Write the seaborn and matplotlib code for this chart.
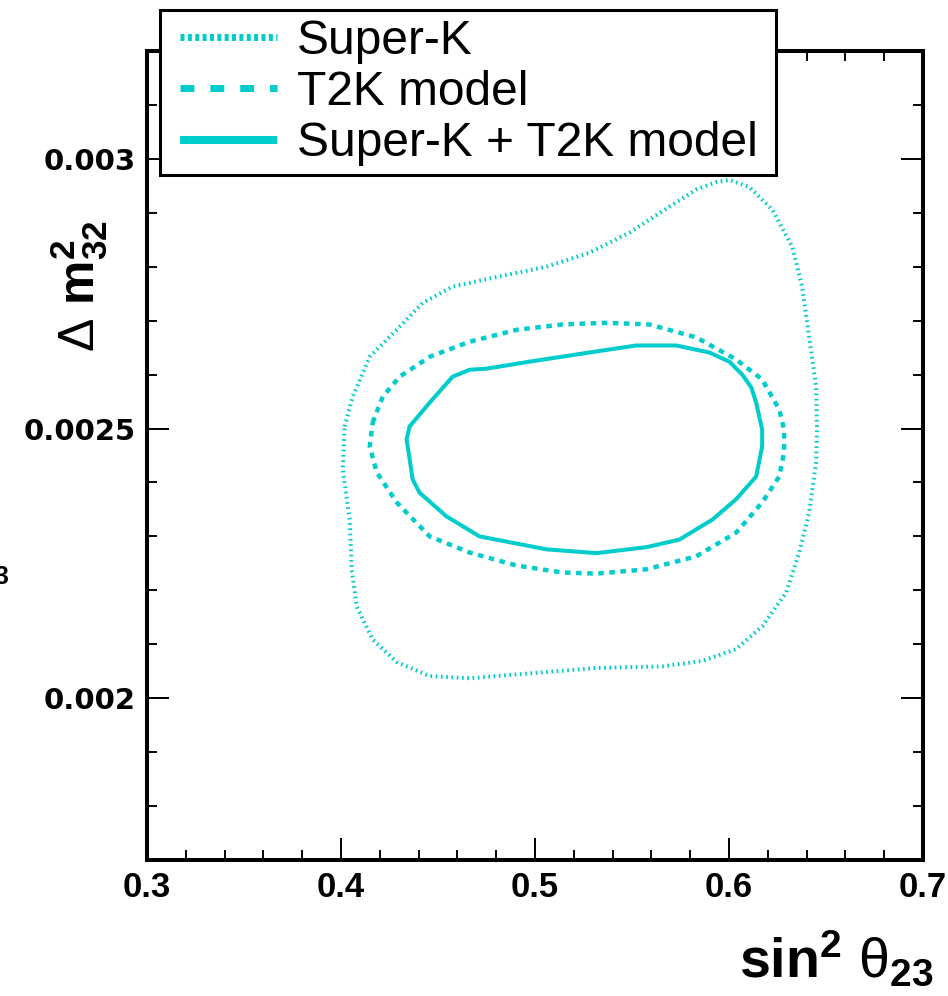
import matplotlib
matplotlib.use("Agg")
import matplotlib.pyplot as plt
from matplotlib.lines import Line2D
from matplotlib.legend_handler import HandlerLine2D
from matplotlib.ticker import MultipleLocator, FixedLocator, FixedFormatter
import numpy as np
import pandas as pd
import seaborn as sns

# 90% C.L. contours in the (sin^2 theta23, Delta m^2_32) plane
sk_x = [0.4019, 0.4060, 0.4148, 0.4287, 0.4421, 0.4575, 0.4802, 0.5059, 0.5281,
        0.5486, 0.5692, 0.5831, 0.5934, 0.6001, 0.6104, 0.6223, 0.6326, 0.6377,
        0.6413, 0.6449, 0.6454, 0.6449, 0.6413, 0.6362, 0.6295, 0.6171, 0.6037,
        0.5862, 0.5656, 0.5317, 0.4972, 0.4663, 0.4457, 0.4287, 0.4163, 0.4081,
        0.4055, 0.4045, 0.4009]
sk_y = [0.002504, 0.002559, 0.002633, 0.002683, 0.002733, 0.002763, 0.002781,
        0.002800, 0.002826, 0.002863, 0.002911, 0.002943, 0.002957, 0.002961,
        0.002948, 0.002906, 0.002837, 0.002763, 0.002670, 0.002578, 0.002498,
        0.002437, 0.002344, 0.002270, 0.002196, 0.002133, 0.002091, 0.002069,
        0.002059, 0.002056, 0.002046, 0.002037, 0.002041, 0.002067, 0.002109,
        0.002170, 0.002239, 0.002331, 0.002424]

t2k_x = [0.4163, 0.4215, 0.4302, 0.4457, 0.4663, 0.4905, 0.5142, 0.5368, 0.5589,
         0.5831, 0.6037, 0.6171, 0.6259, 0.6284, 0.6284, 0.6259, 0.6171, 0.6037,
         0.5831, 0.5574, 0.5317, 0.5142, 0.4905, 0.4663, 0.4457, 0.4287, 0.4184,
         0.4148]
t2k_y = [0.002511, 0.002559, 0.002596, 0.002633, 0.002661, 0.002683, 0.002693,
         0.002696, 0.002693, 0.002669, 0.002628, 0.002591, 0.002535, 0.002498,
         0.002456, 0.002411, 0.002363, 0.002307, 0.002263, 0.002239, 0.002231,
         0.002233, 0.002246, 0.002270, 0.002300, 0.002363, 0.002419, 0.002467]

comb_x = [0.4354, 0.4457, 0.4575, 0.4663, 0.4750, 0.4972, 0.5317, 0.5523, 0.5728,
          0.5898, 0.6002, 0.6068, 0.6115, 0.6140, 0.6171, 0.6171, 0.6140, 0.6037,
          0.5914, 0.5744, 0.5574, 0.5317, 0.5059, 0.4714, 0.4544, 0.4405, 0.4369,
          0.4354, 0.4338]
comb_y = [0.002504, 0.002548, 0.002596, 0.002609, 0.002611, 0.002624, 0.002643,
          0.002654, 0.002654, 0.002641, 0.002624, 0.002600, 0.002576, 0.002548,
          0.002498, 0.002467, 0.002411, 0.002369, 0.002331, 0.002294, 0.002280,
          0.002269, 0.002276, 0.002300, 0.002337, 0.002381, 0.002406, 0.002443,
          0.002480]

labels = ["Super-K", "T2K model", "Super-K + T2K model"]

x_ticks = [0.3, 0.4, 0.5, 0.6, 0.7]
x_tick_labels = ["0.3", "0.4", "0.5", "0.6", "0.7"]
y_ticks = [0.002, 0.0025, 0.003]
y_tick_labels = ["0.002", "0.0025", "0.003"]

CYAN = "#00cccc"

sns.set_theme(style="ticks")
plt.rcParams["font.family"] = ["Liberation Sans", "DejaVu Sans"]
plt.rcParams["mathtext.fontset"] = "custom"
plt.rcParams["mathtext.rm"] = "Liberation Sans"
plt.rcParams["mathtext.bf"] = "Liberation Sans:bold"
plt.rcParams["mathtext.it"] = "Liberation Sans:italic"
plt.rcParams["lines.scale_dashes"] = False
for key in ["text.color", "axes.labelcolor", "xtick.color", "ytick.color",
            "axes.edgecolor"]:
    plt.rcParams[key] = "black"

W, H = 948, 996
fig = plt.figure(figsize=(W / 100, H / 100), dpi=100)
ax = fig.add_axes([147 / W, 1 - 860 / H, (923 - 147) / W, (860 - 51) / H])


def closed(xs, ys, name):
    return pd.DataFrame({"x": list(xs) + [xs[0]], "y": list(ys) + [ys[0]], "model": name})


styles = {
    labels[0]: dict(lw=2.9, ls=(0, (1.2, 2.6))),
    labels[1]: dict(lw=3.2, ls=(0, (4.0, 4.0))),
    labels[2]: dict(lw=2.9, ls="-"),
}
for (xs, ys), name in zip([(sk_x, sk_y), (t2k_x, t2k_y), (comb_x, comb_y)], labels):
    df = closed(xs, ys, name)
    sns.lineplot(data=df, x="x", y="y", sort=False, estimator=None, ax=ax,
                 color=CYAN, linewidth=styles[name]["lw"],
                 linestyle=styles[name]["ls"], dash_capstyle="butt",
                 solid_capstyle="round", solid_joinstyle="round")

ax.set_xlim(0.3, 0.7)
ax.set_ylim(0.0017, 0.0032)
ax.set_xlabel("")
ax.set_ylabel("")

ax.xaxis.set_major_locator(FixedLocator(x_ticks))
ax.xaxis.set_major_formatter(FixedFormatter(x_tick_labels))
ax.xaxis.set_minor_locator(MultipleLocator(0.02))
ax.yaxis.set_major_locator(FixedLocator(y_ticks))
ax.yaxis.set_major_formatter(FixedFormatter(y_tick_labels))
ax.yaxis.set_minor_locator(MultipleLocator(0.0001))

ax.tick_params(which="both", direction="in", top=True, right=True,
               color="black", labelcolor="black", width=1.4)
ax.tick_params(which="major", length=16)
ax.tick_params(which="minor", length=7)
ax.tick_params(axis="x", which="major", pad=8, labelsize=25)
ax.tick_params(axis="y", which="major", pad=8, labelsize=21)
for lab in ax.get_xticklabels():
    lab.set_fontweight("bold")
for lab in ax.get_yticklabels():
    lab.set_fontweight("bold")
    lab.set_family("DejaVu Sans")

for sp in ax.spines.values():
    sp.set_visible(True)
    sp.set_linewidth(2.9)
    sp.set_color("black")

# axis titles
fig.text(933 / W, 1 - 977 / H,
         r"$\mathbf{sin}^{\mathbf{2}}\ \mathrm{\theta}_{\mathbf{23}}$",
         ha="right", va="baseline", fontsize=40, color="black")
fig.text(94 / W, 1 - 352 / H,
         r"$\Delta\ \mathbf{m}^{\mathbf{2}}_{\mathbf{32}}$",
         rotation=90, rotation_mode="anchor", ha="left", va="baseline",
         fontsize=36, color="black")
fig.text(8 / W, 1 - 577 / H, "3", ha="right", va="center",
         fontsize=18, fontweight="bold", color="black")

# legend
FS = 34.5
fs_px = FS / 0.72
handles = [
    Line2D([], [], color=CYAN, lw=5.0, ls=(0, (2.9, 2.4)), dash_capstyle="butt"),
    Line2D([], [], color=CYAN, lw=5.0, ls=(0, (10.0, 11.5)), dash_capstyle="butt"),
    Line2D([], [], color=CYAN, lw=5.8, ls="-", solid_capstyle="butt"),
]
bp_px = 9
xpad_px = 20 - bp_px
hmap = {h: HandlerLine2D(xpad=xpad_px / fs_px) for h in handles}
leg = ax.legend(handles, labels, handler_map=hmap,
                loc="upper left",
                bbox_to_anchor=(160 / W, 1 - 177 / H, (776 - 160) / W, (177 - 10) / H),
                bbox_transform=fig.transFigure, mode="expand",
                borderaxespad=0, borderpad=bp_px / fs_px,
                handlelength=(xpad_px + 97) / fs_px, handletextpad=20 / fs_px,
                labelspacing=0.13, fontsize=FS, frameon=True, fancybox=False,
                framealpha=1, edgecolor="black", facecolor="white")
leg.get_frame().set_linewidth(2.2)
for t in leg.get_texts():
    t.set_color("black")

fig.savefig("out.png", dpi=100)
